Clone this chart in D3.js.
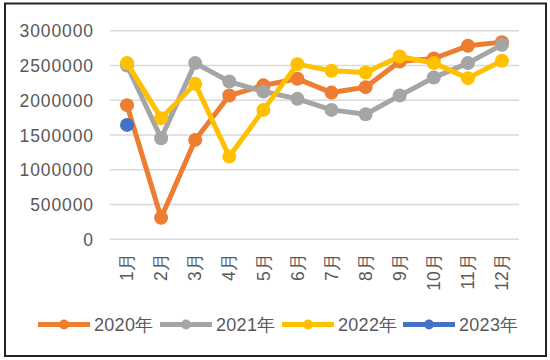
<!DOCTYPE html>
<html><head><meta charset="utf-8">
<script src="https://cdn.jsdelivr.net/npm/d3@7"></script>
<style>body{margin:0;background:#fff;}svg{display:block;}</style>
</head><body>
<svg id="c" width="550" height="360"></svg>
<script>
const months = ["1月","2月","3月","4月","5月","6月","7月","8月","9月","10月","11月","12月"];
const yTicks = [0,500000,1000000,1500000,2000000,2500000,3000000];
const seriesNames = ["2020年","2021年","2022年","2023年"];
const seriesColors = ["#ED7D31","#A5A5A5","#FFC000","#4472C4"];
const v2020 = [1930000,311000,1430000,2068000,2215000,2309000,2111000,2189000,2558000,2601000,2784000,2837000];
const v2021 = [2500000,1455000,2535000,2270000,2126000,2021000,1862000,1800000,2068000,2327000,2535000,2798000];
const v2022 = [2535000,1743000,2237000,1190000,1862000,2520000,2424000,2399000,2630000,2535000,2319000,2568000];
const v2023 = [1646000];
const seriesValues = [v2020,v2021,v2022,v2023];

const svg = d3.select("#c");
const font = "'Liberation Sans', Arial, sans-serif";
svg.append("rect").attr("x",5).attr("y",3.5).attr("width",541).attr("height",352.5)
  .attr("fill","#fff").attr("stroke","#222").attr("stroke-width",2);

const x = d3.scaleBand().domain(months).range([110,519]);
const y = d3.scaleLinear().domain([0,3000000]).range([239.3,30.8]);

// grid
svg.append("g").selectAll("line").data(yTicks).join("line")
  .attr("x1",110).attr("x2",519).attr("y1",d=>y(d)).attr("y2",d=>y(d))
  .attr("stroke","#d9d9d9").attr("stroke-width",1.5);

// y axis
const ya = svg.append("g").attr("transform","translate(94,0)")
  .call(d3.axisLeft(y).tickValues(yTicks).tickSize(0).tickPadding(0).tickFormat(d3.format("d")));
ya.select(".domain").remove();
ya.selectAll("text").attr("font-family",font).attr("font-size",17.5).attr("fill","#595959")
  .attr("dy","0.35em").attr("letter-spacing","0.9px");

// x axis
const xa = svg.append("g").attr("transform","translate(0,239.3)")
  .call(d3.axisBottom(x).tickSize(0).tickPadding(0));
xa.select(".domain").remove();
xa.selectAll("text").attr("font-family",font).attr("font-size",17.5).attr("fill","#595959")
  .attr("transform","rotate(-90)").attr("text-anchor","end")
  .attr("x",-14).attr("y",0).attr("dy","0.35em");

// lines
const line = d3.line().x((d,i)=>x(months[i])+x.bandwidth()/2).y(d=>y(d));
seriesValues.forEach((vals,si)=>{
  const g = svg.append("g");
  g.append("path").datum(vals).attr("d",line).attr("fill","none")
    .attr("stroke",seriesColors[si]).attr("stroke-width",5).attr("stroke-linejoin","round");
  g.selectAll("circle").data(vals).join("circle")
    .attr("cx",(d,i)=>x(months[i])+x.bandwidth()/2).attr("cy",d=>y(d)).attr("r",7)
    .attr("fill",seriesColors[si]);
});

// legend
const legX = [38,160,282,403];
const lg = svg.append("g");
seriesNames.forEach((n,i)=>{
  const g = lg.append("g").attr("transform",`translate(${legX[i]},324.5)`);
  g.append("line").attr("x1",0).attr("x2",52).attr("stroke",seriesColors[i]).attr("stroke-width",5);
  g.append("circle").attr("cx",26).attr("r",5).attr("fill",seriesColors[i]);
  g.append("text").attr("x",56).attr("dy","0.35em").attr("font-family",font).attr("font-size",18)
    .attr("fill","#595959").attr("letter-spacing","0.3px").text(n);
});
</script>
</body></html>
